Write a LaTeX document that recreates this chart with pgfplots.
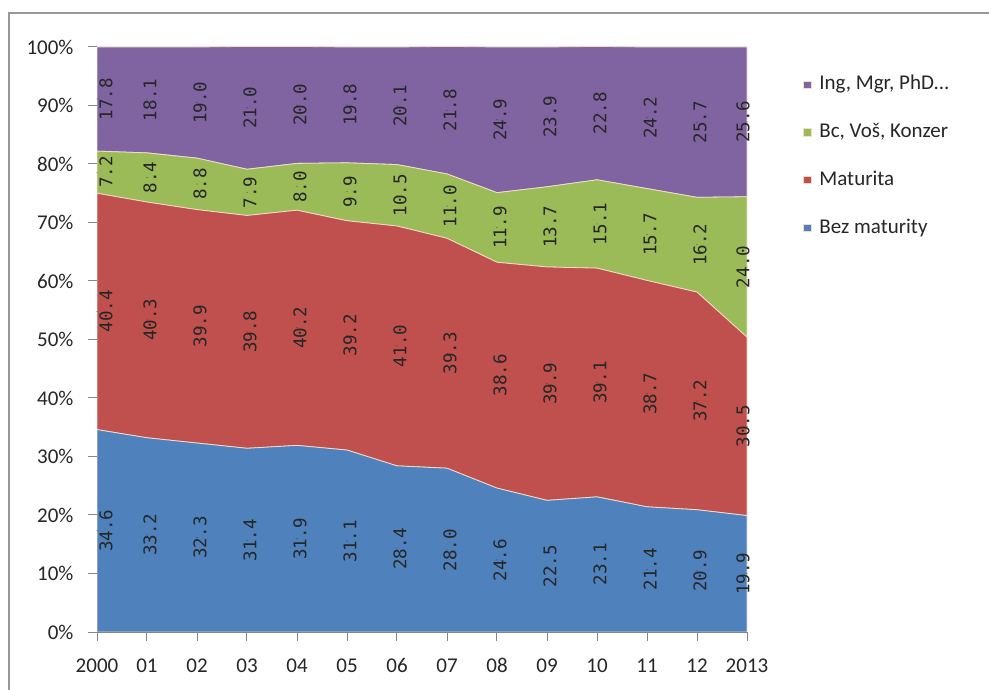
\documentclass[border=0pt]{standalone}
\usepackage{pgfplots}
\pgfplotsset{compat=1.18}
\usepackage{pgfplotstable}
\usepackage{fontspec}
\setmainfont{Carlito}
\newfontfamily\labfont{DejaVu Sans Mono}
\definecolor{cPur}{HTML}{8064A2}
\definecolor{cGrn}{HTML}{9BBB59}
\definecolor{cRed}{HTML}{C0504D}
\definecolor{cBlu}{HTML}{4F81BD}
\definecolor{axgray}{HTML}{868686}
\definecolor{edge}{HTML}{F2DCC8}

\pgfplotstableread{
year B M Bc I
2000 34.6 40.4 7.2 17.8
2001 33.2 40.3 8.4 18.1
2002 32.3 39.9 8.8 19.0
2003 31.4 39.8 7.9 21.0
2004 31.9 40.2 8.0 20.0
2005 31.1 39.2 9.9 19.8
2006 28.4 41.0 10.5 20.1
2007 28.0 39.3 11.0 21.8
2008 24.6 38.6 11.9 24.9
2009 22.5 39.9 13.7 23.9
2010 23.1 39.1 15.1 22.8
2011 21.4 38.7 15.7 24.2
2012 20.9 37.2 16.2 25.7
2013 19.9 30.5 24.0 25.6
}\shares

\pgfplotsset{
  lblplot/.style={only marks, mark=*, mark size=0.1pt, mark options={draw=none, fill=none},
    nodes near coords, point meta=explicit symbolic,
    nodes near coords style={xshift=#1, rotate=90, anchor=center, inner sep=0pt,
      font=\labfont\fontsize{17.5bp}{18bp}\selectfont, text=black!85}},
}

\begin{document}
\begin{tikzpicture}
\path[use as bounding box] (0,0) rectangle (989bp,690bp);
\fill[white] (0,0) rectangle (989bp,690bp);
\draw[axgray!85, line width=1.5bp] (9bp,0) -- (9bp,677bp) -- (989bp,677bp);

\begin{axis}[
  at={(97bp,58bp)}, anchor=south west,
  scale only axis, width=650bp, height=585bp,
  xmin=2000, xmax=2013, ymin=0, ymax=100,
  enlargelimits=false,
  stack plots=y,
  axis x line*=bottom, axis y line*=left,
  axis line style={draw=axgray, line width=1bp, -},
  tick align=outside, major tick length=9bp,
  tick style={draw=axgray, line width=1bp},
  xtick={2000,2001,...,2013},
  xticklabels={2000,01,02,03,04,05,06,07,08,09,10,11,12,2013},
  ytick={0,10,...,100},
  yticklabels={0\%,10\%,20\%,30\%,40\%,50\%,60\%,70\%,80\%,90\%,100\%},
  /pgf/number format/assume math mode=true,
  tick label style={font=\fontsize{21bp}{24bp}\selectfont, text=black!85},
  xticklabel style={yshift=-14bp},
  yticklabel style={xshift=-11bp},
  reverse legend,
  legend image code/.code={\fill[#1] (0bp,-3.5bp) rectangle (7.5bp,4bp);},
  legend style={draw=none, fill=none, inner sep=0pt, at={(1.086,0.8128)}, anchor=west,
    font=\fontsize{21bp}{24bp}\selectfont, text=black!85,
    nodes={inner sep=0pt, text height=14bp, text depth=4bp},
    row sep=29.7bp, column sep=8bp},
  legend cell align=left,
]
\addplot[fill=cBlu, draw=edge, line width=0.8bp, mark=none] table[x=year, y=B] {\shares} \closedcycle;
\addlegendentry{Bez maturity}
\addplot[fill=cRed, draw=edge, line width=0.8bp, mark=none] table[x=year, y=M] {\shares} \closedcycle;
\addlegendentry{Maturita}
\addplot[fill=cGrn, draw=edge, line width=0.8bp, mark=none] table[x=year, y=Bc] {\shares} \closedcycle;
\addlegendentry{Bc, Voš, Konzer}
\addplot[fill=cPur, draw=edge, line width=0.8bp, mark=none] table[x=year, y=I] {\shares} \closedcycle;
\addlegendentry{Ing, Mgr, PhD...}
\end{axis}

\begin{axis}[
  at={(97bp,58bp)}, anchor=south west,
  scale only axis, width=650bp, height=585bp,
  xmin=2000, xmax=2013, ymin=0, ymax=100,
  enlargelimits=false, hide axis, clip=false,
]
% 2000 labels (pushed inside the plot area)
\addplot[lblplot=9bp] table[x=x, y=y, meta=lab] {
x y lab
2000 17.3 34.6
2000 54.8 40.4
2000 78.6 7.2
2000 91.1 17.8
};
% 2001-2012 labels
\addplot[lblplot=3bp] table[x=x, y=y, meta=lab] {
x y lab
2001 16.6 33.2
2002 16.15 32.3
2003 15.7 31.4
2004 15.95 31.9
2005 15.55 31.1
2006 14.2 28.4
2007 14.0 28.0
2008 12.3 24.6
2009 11.25 22.5
2010 11.55 23.1
2011 10.7 21.4
2012 10.45 20.9
2001 53.35 40.3
2002 52.25 39.9
2003 51.3 39.8
2004 52.0 40.2
2005 50.7 39.2
2006 48.9 41.0
2007 47.65 39.3
2008 43.9 38.6
2009 42.45 39.9
2010 42.65 39.1
2011 40.75 38.7
2012 39.5 37.2
2001 77.7 8.4
2002 76.6 8.8
2003 75.15 7.9
2004 76.1 8.0
2005 75.25 9.9
2006 74.65 10.5
2007 72.8 11.0
2008 69.15 11.9
2009 69.25 13.7
2010 69.75 15.1
2011 67.95 15.7
2012 66.2 16.2
2001 90.95 18.1
2002 90.5 19.0
2003 89.6 21.0
2004 90.1 20.0
2005 90.1 19.8
2006 89.95 20.1
2007 89.2 21.8
2008 87.55 24.9
2009 88.05 23.9
2010 88.7 22.8
2011 87.9 24.2
2012 87.15 25.7
};
% 2013 labels
\addplot[lblplot=-4bp] table[x=x, y=y, meta=lab] {
x y lab
2013 9.95 19.9
2013 35.15 30.5
2013 62.4 24.0
2013 87.2 25.6
};
\end{axis}
\end{tikzpicture}
\end{document}
